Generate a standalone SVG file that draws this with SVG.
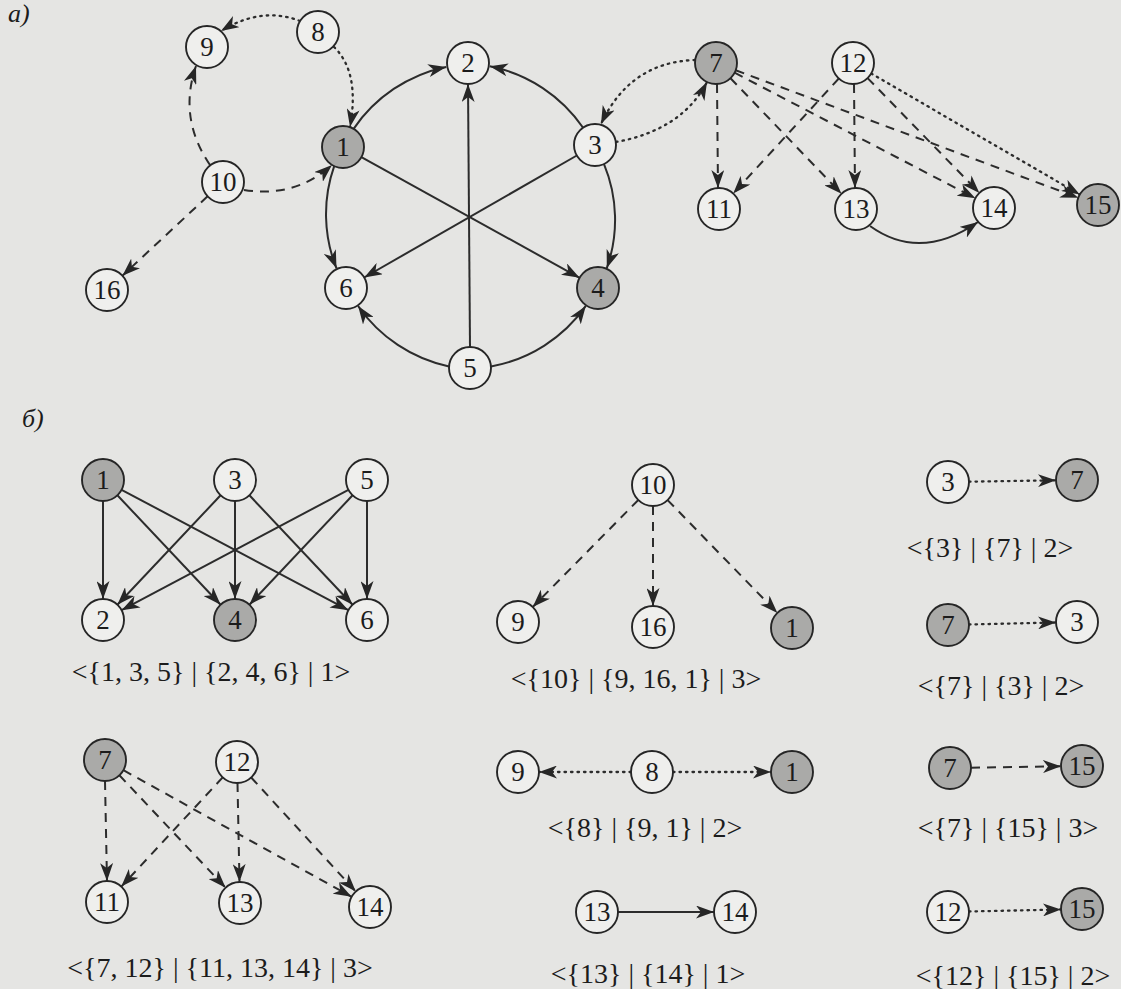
<svg xmlns="http://www.w3.org/2000/svg" width="1121" height="989" viewBox="0 0 1121 989">
<style>
.bg{fill:#e5e5e3}
circle{stroke:#262626;stroke-width:1.9;fill:#efefed}
circle.g{fill:#aaaaa8}
text{font-family:"Liberation Serif","Times New Roman",serif;fill:#1c1c1c}
.t{font-size:27px;text-anchor:middle}
.lbl{font-size:28px;text-anchor:middle}
.it{font-size:26px;font-style:italic}
.e,.d,.o{fill:none;stroke:#2c2c2c;stroke-width:2;marker-end:url(#ah)}
.d{stroke-dasharray:9 7}
.o{stroke-dasharray:1.5 5;stroke-linecap:round;stroke-width:2.3}
</style>
<defs>
<marker id="ah" viewBox="0 0 18 13" refX="18" refY="6.5" markerWidth="18" markerHeight="13" markerUnits="userSpaceOnUse" orient="auto">
<path d="M0,0 L18,6.5 L0,13 L5,6.5 z" fill="#262626"/>
</marker>
</defs>
<rect class="bg" x="0" y="0" width="1121" height="989"/>
<text class="it" x="8" y="22">a)</text>
<text class="it" x="22" y="427">б)</text>
<g id="connectors">
<path class="e" d="M353.4,129.1 A148,148 0 0 1 446.2,66.9"/>
<path class="e" d="M583.5,128.3 A148,148 0 0 0 489.8,66.3"/>
<path class="e" d="M334.2,166.2 A145,145 0 0 0 336.5,268.3"/>
<path class="e" d="M604,164.2 A145,145 0 0 1 606.8,268.1"/>
<path class="e" d="M449,366.5 A148,148 0 0 1 358.1,306"/>
<path class="e" d="M491,366.5 A148,148 0 0 0 585.8,305.9"/>
<path class="e" d="M470,347 L468,84"/>
<path class="e" d="M361.4,157.2 L579.6,277.8"/>
<path class="e" d="M576.8,155.5 L364.2,277.5"/>
<path class="o" d="M300,21 Q262,6 221,31"/>
<path class="o" d="M334,47 Q360,72 350,127"/>
<path class="d" d="M210,165 Q178,118 196,66"/>
<path class="d" d="M244,190 Q295,198 332,165"/>
<path class="d" d="M207.6,196.3 L122.4,275.7"/>
<path class="o" d="M695,60 Q630,62 601,124"/>
<path class="o" d="M616,142 Q682,130 707,82"/>
<path class="d" d="M717,84 L718,188"/>
<path class="d" d="M730.5,78.2 L841.5,193.8"/>
<path class="d" d="M734.6,72.7 L975.4,198.3"/>
<path class="d" d="M735.7,70.3 L1078.3,197.7"/>
<path class="d" d="M838.8,78.5 L733.2,193.5"/>
<path class="d" d="M854,84 L855,188"/>
<path class="d" d="M867.6,78.1 L979.4,192.9"/>
<path class="o" d="M871.2,73.5 L1079.8,194.5"/>
<path class="e" d="M870,226 Q920,262 978,222"/>
<path class="e" d="M103,501 L103,599"/>
<path class="e" d="M117.4,495.3 L220.6,604.7"/>
<path class="e" d="M121.6,489.8 L348.4,610.2"/>
<path class="e" d="M220.6,495.3 L117.4,604.7"/>
<path class="e" d="M235,501 L235,599"/>
<path class="e" d="M249.4,495.3 L352.6,604.7"/>
<path class="e" d="M348.4,489.8 L121.6,610.2"/>
<path class="e" d="M352.6,495.3 L249.4,604.7"/>
<path class="e" d="M367,501 L367,599"/>
<path class="d" d="M638.3,500 L532.7,607"/>
<path class="d" d="M653,506 L653,606"/>
<path class="d" d="M667.6,500.1 L777.4,613"/>
<path class="o" d="M969,481.7 L1056,480.3"/>
<path class="o" d="M969,624.5 L1056,622.5"/>
<path class="d" d="M105,781 L107,881"/>
<path class="d" d="M119.4,775.3 L225.6,887.7"/>
<path class="d" d="M123.4,770.2 L351.6,896.8"/>
<path class="d" d="M222.7,777.4 L121.3,886.6"/>
<path class="d" d="M237.5,783 L239.5,882"/>
<path class="d" d="M251.2,777.5 L355.8,891.5"/>
<path class="o" d="M631,772 L539,772"/>
<path class="o" d="M673,772 L771,772"/>
<path class="e" d="M618,912 L714,912"/>
<path class="d" d="M971,767.7 L1061,766.3"/>
<path class="o" d="M969,911.5 L1061,909.5"/>
</g>
<g id="a1"><circle class="g" cx="343" cy="147" r="21"/><text class="t" x="343" y="156">1</text></g>
<g id="a2"><circle cx="468" cy="63" r="21"/><text class="t" x="468" y="72">2</text></g>
<g id="a3"><circle cx="595" cy="145" r="21"/><text class="t" x="595" y="154">3</text></g>
<g id="a4"><circle class="g" cx="598" cy="288" r="21"/><text class="t" x="598" y="297">4</text></g>
<g id="a5"><circle cx="470" cy="368" r="21"/><text class="t" x="470" y="377">5</text></g>
<g id="a6"><circle cx="346" cy="288" r="21"/><text class="t" x="346" y="297">6</text></g>
<g id="a7"><circle class="g" cx="716" cy="63" r="21"/><text class="t" x="716" y="72">7</text></g>
<g id="a8"><circle cx="318" cy="32" r="21"/><text class="t" x="318" y="41">8</text></g>
<g id="a9"><circle cx="207" cy="47" r="21"/><text class="t" x="207" y="56">9</text></g>
<g id="a10"><circle cx="223" cy="182" r="21"/><text class="t" x="223" y="191">10</text></g>
<g id="a11"><circle cx="719" cy="209" r="21"/><text class="t" x="719" y="218">11</text></g>
<g id="a12"><circle cx="853" cy="63" r="21"/><text class="t" x="853" y="72">12</text></g>
<g id="a13"><circle cx="856" cy="209" r="21"/><text class="t" x="856" y="218">13</text></g>
<g id="a14"><circle cx="994" cy="208" r="21"/><text class="t" x="994" y="217">14</text></g>
<g id="a15"><circle class="g" cx="1098" cy="205" r="21"/><text class="t" x="1098" y="214">15</text></g>
<g id="a16"><circle cx="107" cy="290" r="21"/><text class="t" x="107" y="299">16</text></g>
<g id="b1-1"><circle class="g" cx="103" cy="480" r="21"/><text class="t" x="103" y="489">1</text></g>
<g id="b1-3"><circle cx="235" cy="480" r="21"/><text class="t" x="235" y="489">3</text></g>
<g id="b1-5"><circle cx="367" cy="480" r="21"/><text class="t" x="367" y="489">5</text></g>
<g id="b1-2"><circle cx="103" cy="620" r="21"/><text class="t" x="103" y="629">2</text></g>
<g id="b1-4"><circle class="g" cx="235" cy="620" r="21"/><text class="t" x="235" y="629">4</text></g>
<g id="b1-6"><circle cx="367" cy="620" r="21"/><text class="t" x="367" y="629">6</text></g>
<text class="lbl" x="211" y="681">&lt;{1, 3, 5} | {2, 4, 6} | 1&gt;</text>
<g id="b2-10"><circle cx="653" cy="485" r="21"/><text class="t" x="653" y="494">10</text></g>
<g id="b2-9"><circle cx="518" cy="622" r="21"/><text class="t" x="518" y="631">9</text></g>
<g id="b2-16"><circle cx="653" cy="627" r="21"/><text class="t" x="653" y="636">16</text></g>
<g id="b2-1"><circle class="g" cx="792" cy="628" r="21"/><text class="t" x="792" y="637">1</text></g>
<text class="lbl" x="636" y="688">&lt;{10} | {9, 16, 1} | 3&gt;</text>
<g id="b3-3"><circle cx="948" cy="482" r="21"/><text class="t" x="948" y="491">3</text></g>
<g id="b3-7"><circle class="g" cx="1077" cy="480" r="21"/><text class="t" x="1077" y="489">7</text></g>
<text class="lbl" x="990" y="557">&lt;{3} | {7} | 2&gt;</text>
<g id="b4-7"><circle class="g" cx="948" cy="625" r="21"/><text class="t" x="948" y="634">7</text></g>
<g id="b4-3"><circle cx="1077" cy="622" r="21"/><text class="t" x="1077" y="631">3</text></g>
<text class="lbl" x="1001" y="695">&lt;{7} | {3} | 2&gt;</text>
<g id="b5-7"><circle class="g" cx="105" cy="760" r="21"/><text class="t" x="105" y="769">7</text></g>
<g id="b5-12"><circle cx="237" cy="762" r="21"/><text class="t" x="237" y="771">12</text></g>
<g id="b5-11"><circle cx="107" cy="902" r="21"/><text class="t" x="107" y="911">11</text></g>
<g id="b5-13"><circle cx="240" cy="903" r="21"/><text class="t" x="240" y="912">13</text></g>
<g id="b5-14"><circle cx="370" cy="907" r="21"/><text class="t" x="370" y="916">14</text></g>
<text class="lbl" x="220" y="977">&lt;{7, 12} | {11, 13, 14} | 3&gt;</text>
<g id="b6-9"><circle cx="518" cy="772" r="21"/><text class="t" x="518" y="781">9</text></g>
<g id="b6-8"><circle cx="652" cy="772" r="21"/><text class="t" x="652" y="781">8</text></g>
<g id="b6-1"><circle class="g" cx="792" cy="772" r="21"/><text class="t" x="792" y="781">1</text></g>
<text class="lbl" x="645" y="837">&lt;{8} | {9, 1} | 2&gt;</text>
<g id="b7-13"><circle cx="597" cy="912" r="21"/><text class="t" x="597" y="921">13</text></g>
<g id="b7-14"><circle cx="735" cy="912" r="21"/><text class="t" x="735" y="921">14</text></g>
<text class="lbl" x="648" y="983">&lt;{13} | {14} | 1&gt;</text>
<g id="b8-7"><circle class="g" cx="950" cy="768" r="21"/><text class="t" x="950" y="777">7</text></g>
<g id="b8-15"><circle class="g" cx="1082" cy="766" r="21"/><text class="t" x="1082" y="775">15</text></g>
<text class="lbl" x="1008" y="837">&lt;{7} | {15} | 3&gt;</text>
<g id="b9-12"><circle cx="948" cy="912" r="21"/><text class="t" x="948" y="921">12</text></g>
<g id="b9-15"><circle class="g" cx="1082" cy="909" r="21"/><text class="t" x="1082" y="918">15</text></g>
<text class="lbl" x="1013" y="985">&lt;{12} | {15} | 2&gt;</text>
</svg>
